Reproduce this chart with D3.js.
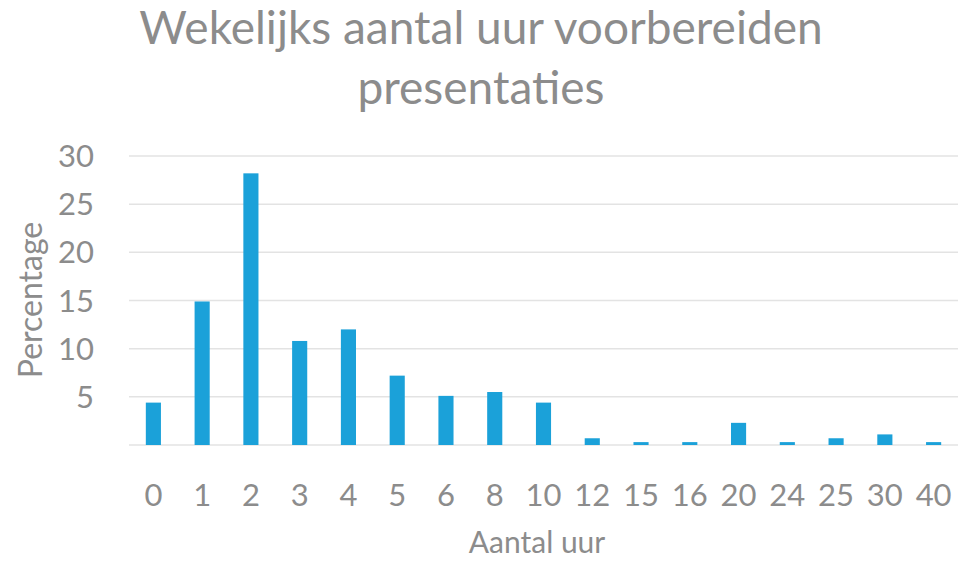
<!DOCTYPE html>
<html>
<head>
<meta charset="utf-8">
<script src="https://cdn.jsdelivr.net/npm/d3@7/dist/d3.min.js"></script>
<style>
  body { margin: 0; background: #fff; }
  text { font-family: Lato, "Open Sans", sans-serif; fill: #8c8c8c; }
</style>
</head>
<body>
<svg id="chart" width="958" height="561"></svg>
<script>
// Chart data
const categories = ["0", "1", "2", "3", "4", "5", "6", "8", "10", "12", "15", "16", "20", "24", "25", "30", "40"];
const percentages = [4.4, 14.9, 28.2, 10.8, 12.0, 7.2, 5.1, 5.5, 4.4, 0.7, 0.3, 0.3, 2.3, 0.3, 0.7, 1.1, 0.3];
const yTicks = [5, 10, 15, 20, 25, 30];
const titleLines = ["Wekelijks aantal uur voorbereiden", "presentaties"];

const svg = d3.select("#chart");
const margin = { top: 156, right: 0, bottom: 116, left: 129 };
const width = 958 - margin.left - margin.right;
const height = 561 - margin.top - margin.bottom;

const g = svg.append("g").attr("transform", `translate(${margin.left},${margin.top})`);

const x = d3.scaleBand().domain(categories).range([0, width]).paddingInner(0.69).paddingOuter(0.345);
const y = d3.scaleLinear().domain([0, 30]).range([height, 0]);

// gridlines
g.append("g")
    .selectAll("line")
    .data([0].concat(yTicks))
    .enter().append("line")
    .attr("x1", 0)
    .attr("x2", width)
    .attr("y1", d => y(d))
    .attr("y2", d => y(d))
    .attr("stroke", "#e3e3e3")
    .attr("stroke-width", 1.5);

// bars
g.append("g")
    .selectAll("rect")
    .data(percentages)
    .enter().append("rect")
    .attr("x", (d, i) => x(categories[i]))
    .attr("y", d => y(d))
    .attr("width", x.bandwidth())
    .attr("height", d => y(0) - y(d))
    .attr("fill", "#1ba1d9");

// y axis labels
g.append("g")
    .selectAll("text")
    .data(yTicks)
    .enter().append("text")
    .attr("x", -35)
    .attr("y", d => y(d))
    .attr("dy", "0.36em")
    .attr("text-anchor", "end")
    .style("font-size", "31px")
    .text(d => d);

// x axis labels
g.append("g")
    .selectAll("text")
    .data(categories)
    .enter().append("text")
    .attr("x", d => x(d) + x.bandwidth() / 2)
    .attr("y", height + 61)
    .attr("text-anchor", "middle")
    .style("font-size", "31px")
    .text(d => d);

// axis titles
svg.append("text")
    .attr("x", 537)
    .attr("y", 553)
    .attr("text-anchor", "middle")
    .style("font-size", "30px")
    .text("Aantal uur");

svg.append("text")
    .attr("transform", "translate(42,300) rotate(-90)")
    .attr("text-anchor", "middle")
    .style("font-size", "32px")
    .text("Percentage");

// title
svg.append("g")
    .selectAll("text")
    .data(titleLines)
    .enter().append("text")
    .attr("x", 481)
    .attr("y", (d, i) => 44 + i * 60)
    .attr("text-anchor", "middle")
    .style("font-size", "46px")
    .text(d => d);
</script>
</body>
</html>
